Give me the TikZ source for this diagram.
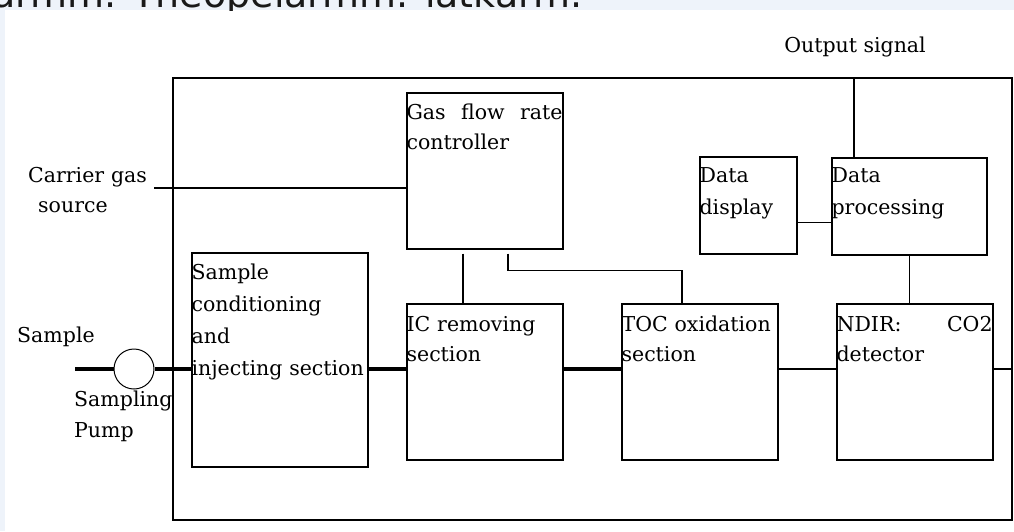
\documentclass[tikz,border=0pt]{standalone}
\usepackage{fontspec}
\setmainfont{DejaVu Serif}
\setsansfont{DejaVu Sans}
\usetikzlibrary{positioning,calc}
\definecolor{bandblue}{HTML}{EEF3FA}
\begin{document}
\begin{tikzpicture}[x=1pt,y=-1pt,
    box/.style={draw,line width=1.2pt,inner sep=0pt},
    lbl/.style={inner sep=0pt,align=left,font=\fontsize{20.5}{30}\selectfont},
    link/.style={line width=1.3pt},
    flow/.style={line width=4pt}]
    \useasboundingbox (0,0) rectangle (1014,531);
    \fill[bandblue] (0,0) rectangle (1014,10);
    \fill[bandblue] (0,10) rectangle (5,531);
    \begin{scope}
      \clip (0,0) rectangle (1014,10);
      \node[inner sep=0pt,anchor=base west,font=\sffamily\fontsize{38}{40}\selectfont,text=black!90] (title) at (-8,7) {armm. Theopelarmm. latkarm.};
    \end{scope}

    \node[box,minimum width=839pt,minimum height=442pt] (frame) at (592.5,299) {};
    \node[box,minimum width=156pt,minimum height=156pt] (gas) at (485,171) {};
    \node[box,minimum width=176pt,minimum height=214pt] (cond) at (280,360) {};
    \node[box,minimum width=156pt,minimum height=156pt] (ic) at (485,382) {};
    \node[box,minimum width=156pt,minimum height=156pt] (toc) at (700,382) {};
    \node[box,minimum width=156pt,minimum height=156pt] (ndir) at (915,382) {};
    \node[box,minimum width=97pt,minimum height=97pt] (disp) at (748.5,205.5) {};
    \node[box,minimum width=155pt,minimum height=97pt] (proc) at (909.5,206.5) {};
    \node[draw,circle,line width=1pt,inner sep=0pt,minimum size=40pt] (pump) at (134,369) {};

    \node[lbl,text width=156pt,anchor=base west] (gastext) at ([yshift=-27]gas.north west) {Gas\hfill flow\hfill rate\\controller};
    \node[lbl,text width=176pt,anchor=base west,font=\fontsize{20.5}{32}\selectfont] (condtext) at ([yshift=-27]cond.north west) {Sample\\conditioning\\and\\injecting section};
    \node[lbl,text width=156pt,anchor=base west] (ictext) at ([yshift=-28]ic.north west) {IC removing\\section};
    \node[lbl,text width=156pt,anchor=base west] (toctext) at ([yshift=-28]toc.north west) {TOC oxidation\\section};
    \node[lbl,text width=156pt,anchor=base west] (ndirtext) at ([yshift=-28]ndir.north west) {NDIR:\hfill CO2\\detector};
    \node[lbl,text width=97pt,anchor=base west,font=\fontsize{20.5}{32}\selectfont] (disptext) at ([yshift=-26]disp.north west) {Data\\display};
    \node[lbl,text width=155pt,anchor=base west,font=\fontsize{20.5}{32}\selectfont] (proctext) at ([yshift=-25]proc.north west) {Data\\processing};

    \node[lbl,text width=130pt,anchor=base west] (carrier) at (28,182) {Carrier gas\\\hspace*{10pt}source};
    \node[lbl,text width=90pt,anchor=base west] (sample) at (17,342) {Sample};
    \node[lbl,text width=110pt,anchor=base west,font=\fontsize{20.5}{31}\selectfont] (pumptext) at (74,406) {Sampling\\Pump};
    \node[lbl,anchor=base] (output) at (855,52) {Output signal};

    \coordinate (gasin) at (154,188);
    \coordinate (samplein) at (75,369);
    \draw[link] (gasin) -- (gasin -| gas.west);
    \draw[flow] (samplein) -- (pump.west);
    \draw[flow] (pump.east) -- (pump.east -| cond.west);
    \draw[flow] (pump.east -| cond.east) -- (pump.east -| ic.west);
    \draw[flow] (pump.east -| ic.east) -- (pump.east -| toc.west);
    \draw[link] (pump.east -| toc.east) -- (pump.east -| ndir.west);
    \draw[link] (pump.east -| ndir.east) -- (pump.east -| frame.east);

    \draw[link] ([xshift=-22,yshift=-4]gas.south) -- ([xshift=-22]ic.north);
    \draw[link] ([xshift=23,yshift=-4]gas.south) |- ([xshift=-18,yshift=33]toc.north) -- ([xshift=-18]toc.north);
    \draw[link] ([yshift=-17]disp.east) -- ([yshift=-16]proc.west);
    \draw[link] (proc.south) -- (proc.south |- ndir.north);
    \draw[link] ([xshift=-55.5]proc.north) -- ([xshift=-55.5]proc.north |- frame.north);
  \end{tikzpicture}
\end{document}
